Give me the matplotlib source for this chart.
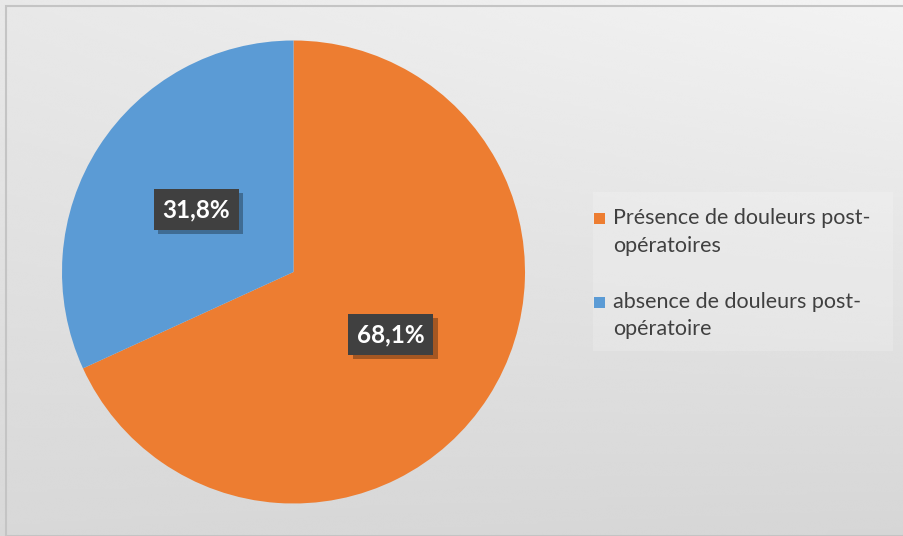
import numpy as np
import matplotlib
matplotlib.use("Agg")
import matplotlib.pyplot as plt
from matplotlib.patches import Rectangle
import matplotlib.patheffects as pe

labels = ["Présence de douleurs post-\nopératoires", "absence de douleurs post-\nopératoire"]
values = [68.1, 31.8]
value_labels = ["68,1%", "31,8%"]
colors = ["#ED7D31", "#5B9BD5"]

W, H = 904, 536
fig = plt.figure(figsize=(W / 100, H / 100), dpi=100)
plt.rcParams['font.family'] = ['Lato', 'DejaVu Sans']

# background gradient
bg = fig.add_axes([0, 0, 1, 1])
bg.set_axis_off()
yy, xx = np.mgrid[0:1:200j, 0:1:300j]
TL, TR, BL, BR = 232, 243, 216, 214
grad = (TL * (1 - xx) * (1 - yy) + TR * xx * (1 - yy) + BL * (1 - xx) * yy + BR * xx * yy) / 255
bg.imshow(grad, cmap="gray", vmin=0, vmax=1, extent=[0, 1, 0, 1], aspect="auto", interpolation="bicubic")
bg.set_xlim(0, 1)
bg.set_ylim(0, 1)
bg.add_patch(Rectangle((6.5 / W, 0), 2, (H - 5.5) / H, transform=bg.transAxes, fill=False,
                       edgecolor="#c4c4c4", linewidth=1.5))

# legend box
bg.add_patch(Rectangle((593 / W, 1 - 351 / H), 300 / W, 159 / H, transform=bg.transAxes,
                       facecolor=(1, 1, 1, 0.18), edgecolor="none"))
entry_top = [213, 296.5]
for c, lab, top in zip(colors, labels, entry_top):
    bg.add_patch(Rectangle((594 / W, 1 - (top + 11) / H), 11 / W, 11 / H, transform=bg.transAxes,
                           facecolor=c, edgecolor="none"))
    fig.text(613 / W, 1 - (top - 4.5) / H, lab, ha="left", va="top", fontsize=15.5,
             color="#404040", linespacing=1.45)

cx, cy, r = 293.5, 272, 231.5
ax = fig.add_axes([(cx - r) / W, (H - cy - r) / H, 2 * r / W, 2 * r / H])
ax.set_axis_off()
wedges, _ = ax.pie(values, colors=colors, startangle=90, counterclock=False, radius=1,
                   wedgeprops=dict(linewidth=0))
ax.set_xlim(-1, 1)
ax.set_ylim(-1, 1)

for w, lab in zip(wedges, value_labels):
    ang = np.deg2rad((w.theta1 + w.theta2) / 2)
    x, y = 0.5 * np.cos(ang), 0.5 * np.sin(ang)
    t = ax.text(x, y, lab, ha="center", va="center", fontsize=17.5, fontweight="bold", color="white",
                bbox=dict(boxstyle="square,pad=0.36", facecolor="#404040", edgecolor="none"))
    t.get_bbox_patch().set_path_effects([
        pe.SimplePatchShadow(offset=(3, -3), shadow_rgbFace="black", alpha=0.3), pe.Normal()])

fig.savefig("out.png", dpi=100)
